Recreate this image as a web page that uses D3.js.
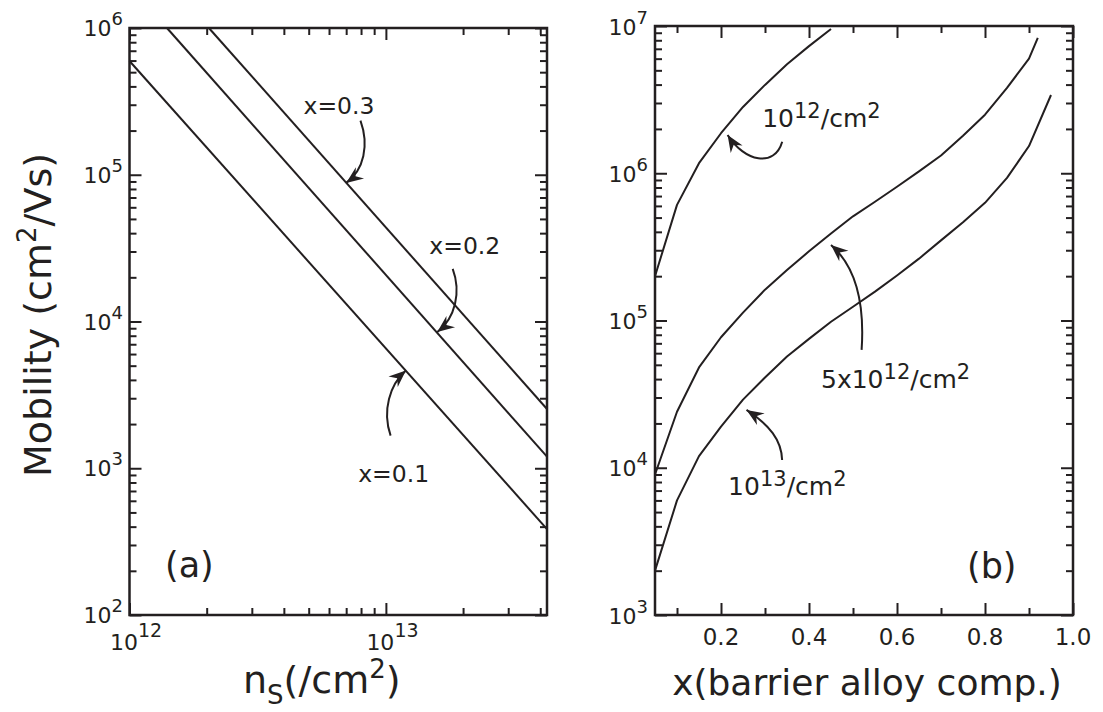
<!DOCTYPE html>
<html>
<head>
<meta charset="utf-8">
<script src="https://cdn.jsdelivr.net/npm/d3@7"></script>
<style>
  body { margin: 0; background: #fff; }
  svg { display: block; font-family: "DejaVu Sans", Verdana, sans-serif; }
</style>
</head>
<body>
<svg id="chart" width="1103" height="712"></svg>
<script>
// ---- Panel (a): mobility vs. sheet density, one line per barrier composition ----
const compLabels = ["x=0.1", "x=0.2", "x=0.3"];
const nsStart = [1.0e12, 1.40e12, 2.04e12];
const muStart = [5.96e5, 1.0e6, 1.0e6];
const nsEnd = [4.25e13, 4.25e13, 4.25e13];
const muEnd = [385, 1200, 2535];

// ---- Panel (b): mobility vs. barrier alloy composition, one curve per density ----
const densityLabels = [["10", "12", "/cm", "2"], ["5x10", "12", "/cm", "2"], ["10", "13", "/cm", "2"]];
const xComp12 = [0.05, 0.10, 0.15, 0.20, 0.25, 0.30, 0.35, 0.40, 0.45];
const mu12 = [2.0e5, 6.1e5, 1.17e6, 1.87e6, 2.82e6, 3.98e6, 5.5e6, 7.3e6, 9.55e6];
const xComp5 = [0.05, 0.10, 0.15, 0.20, 0.25, 0.30, 0.35, 0.40, 0.45, 0.50,
                0.55, 0.60, 0.65, 0.70, 0.75, 0.80, 0.85, 0.90, 0.92];
const mu5 = [9.0e3, 2.4e4, 4.8e4, 7.7e4, 1.13e5, 1.62e5, 2.2e5, 2.95e5, 3.9e5, 5.1e5,
             6.4e5, 8.1e5, 1.03e6, 1.32e6, 1.8e6, 2.5e6, 3.8e6, 6.0e6, 8.3e6];
const xComp13 = [0.05, 0.10, 0.15, 0.20, 0.25, 0.30, 0.35, 0.40, 0.45, 0.50,
                 0.55, 0.60, 0.65, 0.70, 0.75, 0.80, 0.85, 0.90, 0.95];
const mu13 = [2.0e3, 6.0e3, 1.2e4, 1.9e4, 2.9e4, 4.1e4, 5.7e4, 7.5e4, 9.8e4, 1.24e5,
              1.57e5, 2.02e5, 2.63e5, 3.5e5, 4.65e5, 6.3e5, 9.3e5, 1.53e6, 3.4e6];

// ---- Tick labels ----
const yExpA = ["2", "3", "4", "5", "6"];
const xExpA = ["12", "13"];
const yExpB = ["3", "4", "5", "6", "7"];
const xTicksB = [0.2, 0.4, 0.6, 0.8, 1.0];
const xMinorB = [0.1, 0.3, 0.5, 0.7, 0.9];

// ---- Annotation tips (data coords) ----
const tipsA = [[1.197e13, 4.63e3], [1.587e13, 8.47e3], [7.0e12, 8.8e4]];
const tipsB = [[0.215, 1.82e6], [0.45, 3.26e5], [0.258, 2.47e4]];

const INK = "#231f20";
const svg = d3.select("#chart");

svg.append("defs").append("marker")
  .attr("id", "head")
  .attr("viewBox", "-18 -8 19 16")
  .attr("markerUnits", "userSpaceOnUse")
  .attr("markerWidth", 19).attr("markerHeight", 16)
  .attr("refX", 0).attr("refY", 0)
  .attr("orient", "auto")
  .append("path")
  .attr("d", "M0,0 L-17,-7 L-11.5,0 L-17,7 Z")
  .attr("fill", INK);

// Scales
const xA = d3.scaleLog().domain([1e12, 4.25e13]).range([129.5, 547]);
const yA = d3.scaleLog().domain([1e2, 1e6]).range([615, 28]);
const xB = d3.scaleLinear().domain([0.05, 1.0]).range([655, 1073]);
const yB = d3.scaleLog().domain([1e3, 1e7]).range([615, 26]);

function logMinors(lo, hi) {
  const out = [];
  for (let e = lo; e < hi; e++) for (let m = 2; m <= 9; m++) out.push(m * Math.pow(10, e));
  return out;
}

function drawFrame(x, y, xMajor, xMinor, yMajor, yMinor) {
  const [x0, x1] = x.range();
  const [y0, y1] = y.range();
  const g = svg.append("g").style("color", INK);
  const specs = [
    [d3.axisBottom(x), y0, "x"], [d3.axisTop(x), y1, "x"],
    [d3.axisLeft(y), x0, "y"], [d3.axisRight(y), x1, "y"]
  ];
  specs.forEach(([axisFn, pos, dir]) => {
    const major = dir === "x" ? xMajor : yMajor;
    const minor = dir === "x" ? xMinor : yMinor;
    [[major, 12], [minor, 7]].forEach(([vals, len]) => {
      const a = axisFn.tickValues(vals).tickSize(-len).tickFormat("");
      const sub = g.append("g")
        .attr("transform", dir === "x" ? `translate(0,${pos})` : `translate(${pos},0)`)
        .call(a);
      sub.select(".domain").remove();
      sub.selectAll(".tick line").attr("stroke-width", 2);
    });
  });
  g.append("rect")
    .attr("x", x0).attr("y", y1)
    .attr("width", x1 - x0).attr("height", y0 - y1)
    .attr("fill", "none").attr("stroke", INK).attr("stroke-width", 2.5);
}

function powText(x, y, base, exp, anchor, size, supSize, rise) {
  const t = svg.append("text")
    .attr("x", x).attr("y", y)
    .attr("text-anchor", anchor)
    .attr("fill", INK)
    .style("font-size", size + "px");
  t.append("tspan").text(base);
  t.append("tspan").attr("dy", -rise).style("font-size", supSize + "px").text(exp);
  return t;
}

// ---------- Panel (a) ----------
drawFrame(xA, yA, [1e12, 1e13], logMinors(12, 13).concat([2e13, 3e13, 4e13]),
  yExpA.map(e => Math.pow(10, +e)), logMinors(2, 6));

yExpA.forEach(e => powText(123, yA(Math.pow(10, +e)) + 8, "10", e, "end", 22, 18, 11));
xExpA.forEach(e => powText(xA(Math.pow(10, +e)) - 19.5, 650, "10", e, "start", 22, 19, 13));

const lineA = d3.line().x(d => xA(d[0])).y(d => yA(d[1]));
compLabels.forEach((lab, i) => {
  svg.append("path")
    .datum([[nsStart[i], muStart[i]], [nsEnd[i], muEnd[i]]])
    .attr("d", lineA)
    .attr("fill", "none").attr("stroke", INK).attr("stroke-width", 2);
});

// arrow shapes relative to tip: start, ctrl1, ctrl2; label offset
const arrowsA = [
  { s: [-15.3, 65], c1: [-24, 40], c2: [-16, 14], lab: [-47.7, 111.6] },
  { s: [15.4, -63.3], c1: [24, -40], c2: [18, -14], lab: [-8, -78.3] },
  { s: [14.3, -62.3], c1: [23, -38], c2: [18, -13], lab: [-42.7, -69.3] }
];

function drawArrow(tx, ty, a) {
  const p = d3.path();
  p.moveTo(tx + a.s[0], ty + a.s[1]);
  p.bezierCurveTo(tx + a.c1[0], ty + a.c1[1], tx + a.c2[0], ty + a.c2[1], tx, ty);
  svg.append("path").attr("d", p.toString())
    .attr("fill", "none").attr("stroke", INK).attr("stroke-width", 2)
    .attr("marker-end", "url(#head)");
}

compLabels.forEach((lab, i) => {
  const tx = xA(tipsA[i][0]), ty = yA(tipsA[i][1]);
  const a = arrowsA[i];
  drawArrow(tx, ty, a);
  svg.append("text")
    .attr("x", tx + a.lab[0]).attr("y", ty + a.lab[1])
    .attr("fill", INK).style("font-size", "23.5px")
    .text(lab);
});

svg.append("text").attr("x", 165).attr("y", 577).attr("fill", INK)
  .style("font-size", "35px").text("(a)");

// x-axis title (a)
{
  const t = svg.append("text").attr("x", 243).attr("y", 693).attr("fill", INK)
    .style("font-size", "38px");
  t.append("tspan").text("n");
  t.append("tspan").attr("dy", 11).style("font-size", "26px").text("S");
  t.append("tspan").attr("dy", -11).text("(/cm");
  t.append("tspan").attr("dy", -15).style("font-size", "26px").text("2");
  t.append("tspan").attr("dy", 15).text(")");
}

// y-axis title
{
  const t = svg.append("text")
    .attr("transform", "translate(51,315) rotate(-90)")
    .attr("text-anchor", "middle").attr("fill", INK)
    .style("font-size", "38px");
  t.append("tspan").text("Mobility (cm");
  t.append("tspan").attr("dy", -15).style("font-size", "26px").text("2");
  t.append("tspan").attr("dy", 15).text("/Vs)");
}

// ---------- Panel (b) ----------
drawFrame(xB, yB, xTicksB, xMinorB,
  yExpB.map(e => Math.pow(10, +e)), logMinors(3, 7));

yExpB.forEach(e => powText(648, yB(Math.pow(10, +e)) + 8.5, "10", e, "end", 22, 18, 11));
xTicksB.forEach(v => {
  svg.append("text").attr("x", xB(v)).attr("y", 645)
    .attr("text-anchor", "middle").attr("fill", INK)
    .style("font-size", "23px").text(d3.format(".1f")(v));
});

const lineB = d3.line().x(d => xB(d[0])).y(d => yB(d[1]));
[[xComp12, mu12], [xComp5, mu5], [xComp13, mu13]].forEach(([xs, ms]) => {
  svg.append("path")
    .datum(xs.map((v, i) => [v, ms[i]]))
    .attr("d", lineB)
    .attr("fill", "none").attr("stroke", INK).attr("stroke-width", 2)
    .attr("stroke-linejoin", "round");
});

const arrowsB = [
  { s: [54.6, 6.7], c1: [47, 33], c2: [17, 27], lab: [34.6, -8.3] },
  { s: [30.6, 105], c1: [34, 55], c2: [23, 20], lab: [-10, 143.3] },
  { s: [35.6, 50], c1: [35, 30], c2: [23, 15], lab: [-18.4, 85] }
];

densityLabels.forEach((parts, i) => {
  const tx = xB(tipsB[i][0]), ty = yB(tipsB[i][1]);
  const a = arrowsB[i];
  drawArrow(tx, ty, a);
  const t = svg.append("text")
    .attr("x", tx + a.lab[0]).attr("y", ty + a.lab[1])
    .attr("fill", INK).style("font-size", "25px");
  t.append("tspan").text(parts[0]);
  t.append("tspan").attr("dy", -9).style("font-size", "21px").text(parts[1]);
  t.append("tspan").attr("dy", 9).text(parts[2]);
  t.append("tspan").attr("dy", -9).style("font-size", "21px").text(parts[3]);
});

svg.append("text").attr("x", 967).attr("y", 578).attr("fill", INK)
  .style("font-size", "35px").text("(b)");

svg.append("text").attr("x", 867).attr("y", 695)
  .attr("text-anchor", "middle").attr("fill", INK)
  .style("font-size", "36px").text("x(barrier alloy comp.)");
</script>
</body>
</html>
